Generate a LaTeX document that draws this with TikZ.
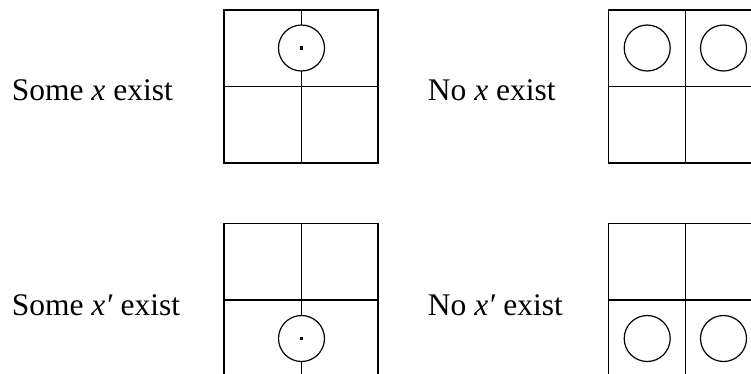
\documentclass[tikz,border=0pt]{standalone}
\usepackage{fontspec}
\setmainfont{Liberation Serif}
\begin{document}
\begin{tikzpicture}[x=1bp,y=-1bp,
  grid/.style={draw=black,line width=1.4bp},
  ring/.style={circle,draw=black,line width=1.2bp,fill=white,minimum size=46bp,inner sep=0pt},
  dot/.style={fill=black,minimum size=3.2bp,inner sep=0pt},
  lbl/.style={anchor=base west,inner sep=0pt,font=\fontsize{31.6}{36}\selectfont}]
\useasboundingbox (0,0) rectangle (751,373);
\clip (0,0) rectangle (751,373);
% labels
\node[lbl] (t1) at (11.7,100) {Some \textit{x} exist};
\node[lbl] (t2) at (427.7,100) {No \textit{x} exist};
\node[lbl] (t3) at (11.7,315) {Some \textit{x′} exist};
\node[lbl] (t4) at (427.7,315) {No \textit{x′} exist};
% top-left box
\draw[grid] (224,10) rectangle (378,163);
\draw[grid] (224,86.5) -- (378,86.5);
\draw[grid] (301.5,10) -- (301.5,163);
\node[ring] (c1) at (301.5,48) {};
\node[dot] at (c1.center) {};
% top-right box
\draw[grid] (608.5,10) rectangle (762.5,163);
\draw[grid] (608.5,86.5) -- (762.5,86.5);
\draw[grid] (685.5,10) -- (685.5,163);
\node[ring] (c2) at (647.2,48) {};
\node[ring] (c3) at (723.5,48) {};
% bottom-left box
\draw[grid] (224,223.5) rectangle (378,376.5);
\draw[grid] (224,300) -- (378,300);
\draw[grid] (301.5,223.5) -- (301.5,376.5);
\node[ring] (c4) at (301.5,338.5) {};
\node[dot] at (c4.center) {};
% bottom-right box
\draw[grid] (608.5,223.5) rectangle (762.5,376.5);
\draw[grid] (608.5,300) -- (762.5,300);
\draw[grid] (685.5,223.5) -- (685.5,376.5);
\node[ring] (c5) at (647.2,338.5) {};
\node[ring] (c6) at (723.5,338.5) {};
\end{tikzpicture}
\end{document}
